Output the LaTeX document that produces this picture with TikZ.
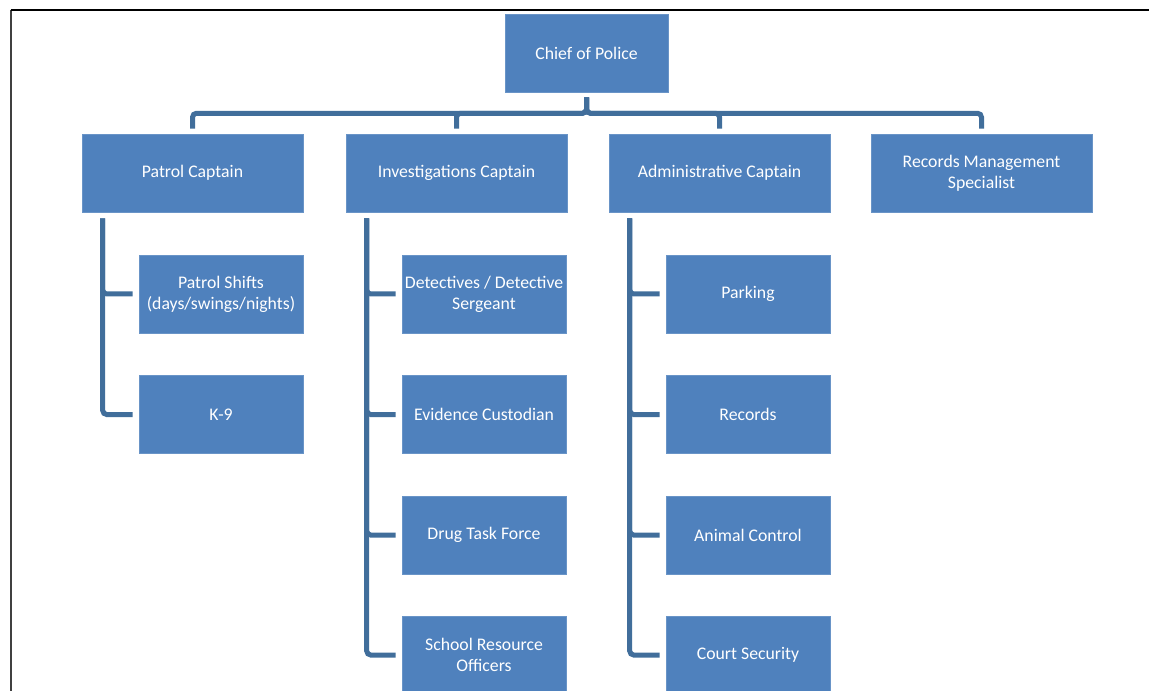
\documentclass[tikz,border=0pt]{standalone}
\usepackage{fontspec}
\setmainfont{Carlito}
\definecolor{boxblue}{RGB}{79,129,189}
\definecolor{linkblue}{RGB}{65,110,155}
\tikzset{
  unit/.style={draw=boxblue!85!white,fill=boxblue,text=white,align=center,inner sep=0pt,
    minimum height=58.5pt,font=\fontsize{13.3}{15.75}\selectfont},
  topbox/.style={unit,minimum width=122.25pt},
  capbox/.style={unit,minimum width=165.75pt},
  subbox/.style={unit,minimum width=123pt},
  link/.style={draw=linkblue,line width=3.75pt,rounded corners=3pt}
}

\begin{document}
\begin{tikzpicture}[x=0.75pt,y=-0.75pt]
  \useasboundingbox (0,0) rectangle (1149,691);
  \clip (0,0) rectangle (1149,691);
  \draw[line width=1.5pt,black!75] (10.5,691) -- (10.5,10.5);
  \draw[line width=1.5pt,black] (10.5,10.5) -- (1149,10.5);

  % top
  \node[topbox] (chief) at (586.5,53) {Chief of Police};

  % captains
  \node[capbox] (patrol) at (192.5,173) {Patrol Captain};
  \node[capbox] (invest) at (456.5,173) {Investigations Captain};
  \node[capbox] (admin) at (719.5,173) {Administrative Captain};
  \node[capbox] (records) at (981.5,173) {Records Management\\Specialist};

  % patrol units
  \node[subbox] (shifts) at (221,294) {Patrol Shifts\\(days/swings/nights)};
  \node[subbox] (canine) at (221,414.5) {K-9};

  % investigation units
  \node[subbox] (detect) at (484,294) {Detectives / Detective\\Sergeant};
  \node[subbox] (evid) at (484,414.5) {Evidence Custodian};
  \node[subbox] (drug) at (484,535) {Drug Task Force};
  \node[subbox] (school) at (484,655) {School Resource\\Officers};

  % admin units
  \node[subbox] (parking) at (748,294) {Parking};
  \node[subbox] (recs) at (748,414.5) {Records};
  \node[subbox] (animal) at (748,535) {Animal Control};
  \node[subbox] (court) at (748,655) {Court Security};

  % chief to captains
  \draw[link,shorten <=3.75pt,shorten >=3.75pt] (chief.south) -- ++(0,21) -| (patrol.north);
  \draw[link,shorten <=3.75pt,shorten >=3.75pt] (chief.south) -- ++(0,21) -| (invest.north);
  \draw[link,shorten <=3.75pt,shorten >=3.75pt] (chief.south) -- ++(0,21) -| (admin.north);
  \draw[link,shorten <=3.75pt,shorten >=3.75pt] (chief.south) -- ++(0,21) -| (records.north);

  % trunks
  \coordinate (ptrunk) at ([xshift=15.75pt]patrol.south west);
  \coordinate (itrunk) at ([xshift=15.75pt]invest.south west);
  \coordinate (atrunk) at ([xshift=15.75pt]admin.south west);

  \draw[link,shorten <=4.5pt,shorten >=4.5pt] (ptrunk) |- (shifts.west);
  \draw[link,shorten <=4.5pt,shorten >=4.5pt] (ptrunk) |- (canine.west);

  \draw[link,shorten <=4.5pt,shorten >=4.5pt] (itrunk) |- (detect.west);
  \draw[link,shorten <=4.5pt,shorten >=4.5pt] (itrunk) |- (evid.west);
  \draw[link,shorten <=4.5pt,shorten >=4.5pt] (itrunk) |- (drug.west);
  \draw[link,shorten <=4.5pt,shorten >=4.5pt] (itrunk) |- (school.west);

  \draw[link,shorten <=4.5pt,shorten >=4.5pt] (atrunk) |- (parking.west);
  \draw[link,shorten <=4.5pt,shorten >=4.5pt] (atrunk) |- (recs.west);
  \draw[link,shorten <=4.5pt,shorten >=4.5pt] (atrunk) |- (animal.west);
  \draw[link,shorten <=4.5pt,shorten >=4.5pt] (atrunk) |- (court.west);
\end{tikzpicture}
\end{document}
